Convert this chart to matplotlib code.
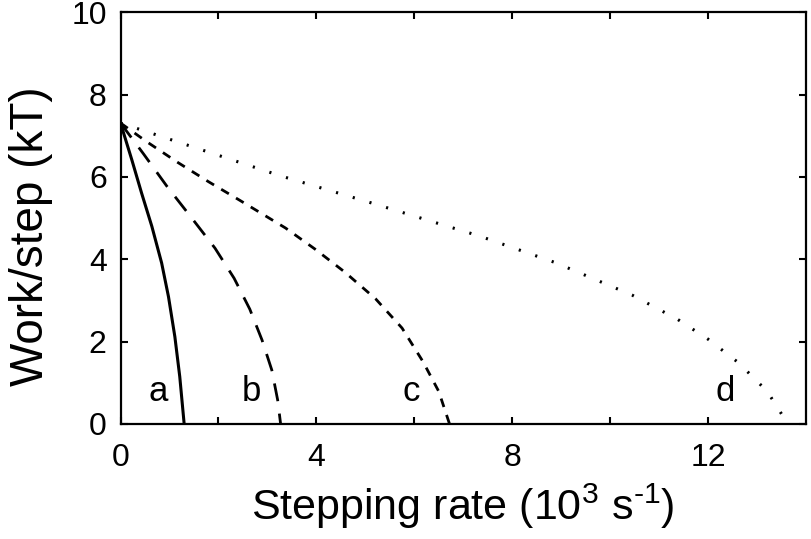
import matplotlib
matplotlib.use('Agg')
import matplotlib.pyplot as plt
from matplotlib.ticker import MultipleLocator, FixedLocator

# curves: stepping rate (10^3 s^-1) vs work/step (kT)
rate_a = [0.0, 0.23, 0.43, 0.64, 0.84, 0.98, 1.11, 1.21, 1.30]
work_a = [7.31, 6.42, 5.61, 4.80, 3.91, 3.09, 2.12, 1.15, 0.0]

rate_b = [0.0, 0.47, 0.95, 1.43, 1.93, 2.32, 2.64, 2.89, 3.09, 3.21, 3.27]
work_b = [7.31, 6.56, 5.77, 5.04, 4.27, 3.54, 2.79, 2.04, 1.31, 0.58, 0.0]

rate_c = [0.0, 0.53, 1.16, 1.79, 2.44, 3.37, 3.97, 4.58, 5.21, 5.75, 6.18, 6.50, 6.72]
work_c = [7.31, 6.86, 6.36, 5.89, 5.43, 4.76, 4.25, 3.69, 3.04, 2.33, 1.51, 0.79, 0.0]

rate_d = [0.0, 3.26, 5.15, 6.71, 7.32, 8.88, 10.45, 11.38, 12.0, 12.62, 13.21, 13.63]
work_d = [7.31, 6.03, 5.36, 4.79, 4.57, 3.92, 3.13, 2.54, 2.06, 1.49, 0.79, 0.0]

labels = ['a', 'b', 'c', 'd']
label_x = [0.77, 2.68, 5.94, 12.34]
label_y = 0.55

plt.rcParams['font.family'] = ['Liberation Sans', 'DejaVu Sans']
plt.rcParams['mathtext.fontset'] = 'custom'
plt.rcParams['mathtext.rm'] = 'Liberation Sans'
plt.rcParams['mathtext.it'] = 'Liberation Sans:italic'

fig = plt.figure(figsize=(8.11, 5.39), dpi=100)
ax = fig.add_axes([0.1486, 0.2134, 0.9938 - 0.1486, 0.9772 - 0.2134])

ax.plot(rate_a, work_a, color='black', lw=2.2, solid_capstyle='butt')
ax.plot(rate_b, work_b, color='black', lw=2.0, dashes=(6.5, 4.5))
ax.plot(rate_c, work_c, color='black', lw=2.0, dashes=(3.2, 3.0))
ax.plot(rate_d, work_d, color='black', lw=2.2, dashes=(0.7, 5.0))

for lab, lx in zip(labels, label_x):
    ax.text(lx, label_y, lab, fontsize=25, ha='center', va='baseline')

ax.set_xlim(0, 14)
ax.set_ylim(0, 10)
ax.xaxis.set_major_locator(FixedLocator([0, 4, 8, 12]))
ax.xaxis.set_minor_locator(FixedLocator([2, 6, 10]))
ax.yaxis.set_major_locator(MultipleLocator(2))
ax.tick_params(which='both', direction='in', length=5, width=1.5,
               top=True, right=True, labelsize=23)
ax.tick_params(axis='x', pad=14)
ax.tick_params(axis='y', pad=10)

for sp in ax.spines.values():
    sp.set_linewidth(1.6)

ax.set_xlabel(r'Stepping rate (10$^\mathrm{3}$ s$^\text{-1}$)', fontsize=31, labelpad=6)
ax.set_ylabel('Work/step (kT)', fontsize=33)
ax.yaxis.set_label_coords(-0.098, 0.456)

fig.savefig('out.png', dpi=100)
